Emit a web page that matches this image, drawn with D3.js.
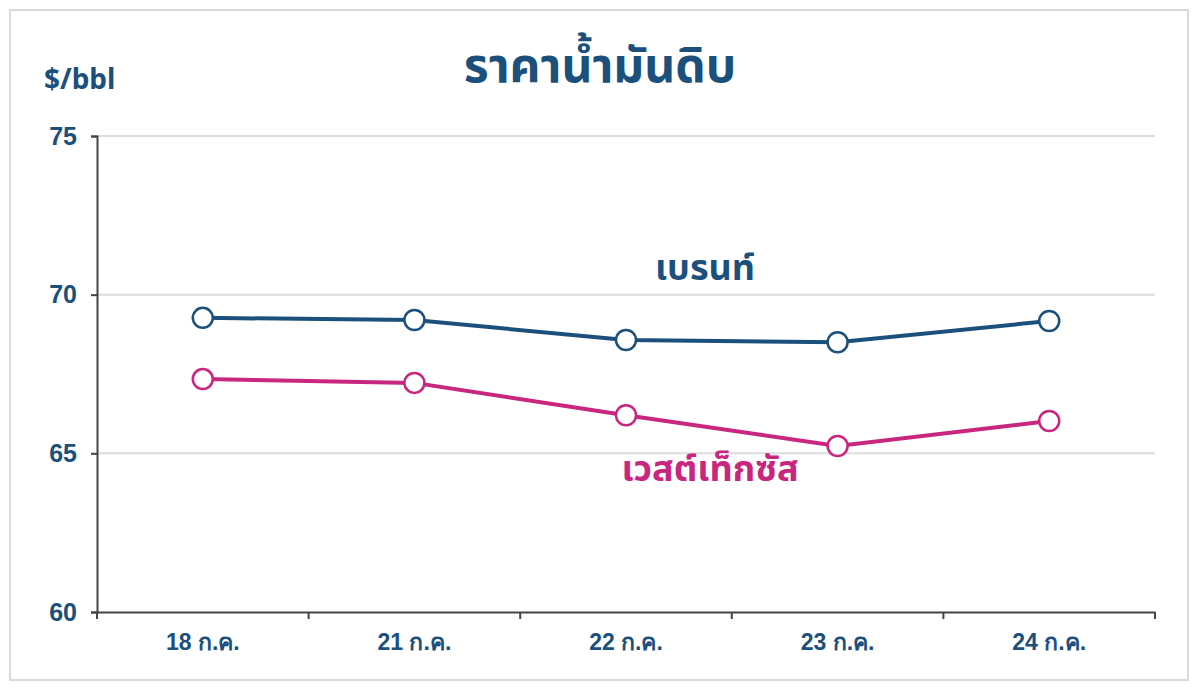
<!DOCTYPE html>
<html><head><meta charset="utf-8">
<script src="https://cdn.jsdelivr.net/npm/d3@7"></script>
<style>body{margin:0;background:#fff;font-family:"Noto Sans","Noto Sans Thai",sans-serif}</style>
</head><body><svg id="c" width="1200" height="692"></svg>
<script>
const categories=["18 ก.ค.","21 ก.ค.","22 ก.ค.","23 ก.ค.","24 ก.ค."];
const brent=[69.27,69.2,68.57,68.5,69.17];
const wti=[67.34,67.22,66.2,65.23,66.02];
const yTicks=[60,65,70,75];
const svg=d3.select("#c");
const blue="#1b4f7c",pink="#c8267f";
svg.append("rect").attr("x",10).attr("y",10).attr("width",1178).attr("height",670).attr("fill","#fff").attr("stroke","#d9d9d9").attr("stroke-width",2);
const x=d3.scaleBand().domain(categories).range([97,1155]);
const y=d3.scaleLinear().domain([60,75]).range([612,136]);
svg.append("g").selectAll("line").data([65,70,75]).join("line").attr("x1",97).attr("x2",1155).attr("y1",d=>y(d)).attr("y2",d=>y(d)).attr("stroke","#dcdcdc").attr("stroke-width",2);
const ya=svg.append("g").attr("transform","translate(97,0)").call(d3.axisLeft(y).tickValues(yTicks).tickSize(6).tickPadding(14));
ya.selectAll("text").attr("font-size",25).attr("font-weight","bold").attr("fill",blue);
ya.selectAll("line,path").attr("stroke","#444").attr("stroke-width",2);
const xa=svg.append("g").attr("transform","translate(0,612)").call(d3.axisBottom(x).tickSize(0).tickPadding(22));
xa.select("path").attr("stroke","#444").attr("stroke-width",2);
xa.selectAll("text").attr("font-size",23).attr("font-weight","bold").attr("fill",blue);
svg.append("g").selectAll("line").data(d3.range(categories.length+1)).join("line")
 .attr("x1",i=>97+i*x.step()).attr("x2",i=>97+i*x.step()).attr("y1",612).attr("y2",619).attr("stroke","#444").attr("stroke-width",2);
const line=d3.line().x((d,i)=>x(categories[i])+x.bandwidth()/2).y(d=>y(d));
[[brent,blue],[wti,pink]].forEach(([s,c])=>{
 svg.append("path").attr("d",line(s)).attr("fill","none").attr("stroke",c).attr("stroke-width",4);
 svg.append("g").selectAll("circle").data(s).join("circle").attr("cx",(d,i)=>x(categories[i])+x.bandwidth()/2).attr("cy",d=>y(d)).attr("r",10).attr("fill","#fff").attr("stroke",c).attr("stroke-width",2.5);
});
svg.append("text").attr("x",600).attr("y",82).attr("text-anchor","middle").attr("font-size",48).attr("font-weight","bold").attr("fill",blue).text("ราคาน้ำมันดิบ");
svg.append("text").attr("x",44).attr("y",89).attr("font-size",28).attr("font-weight","bold").attr("fill",blue).text("$/bbl");
svg.append("text").attr("x",705).attr("y",280).attr("text-anchor","middle").attr("font-size",36).attr("font-weight","bold").attr("fill",blue).text("เบรนท์");
svg.append("text").attr("x",710).attr("y",481).attr("text-anchor","middle").attr("font-size",36).attr("font-weight","bold").attr("fill",pink).text("เวสต์เท็กซัส");
</script></body></html>
